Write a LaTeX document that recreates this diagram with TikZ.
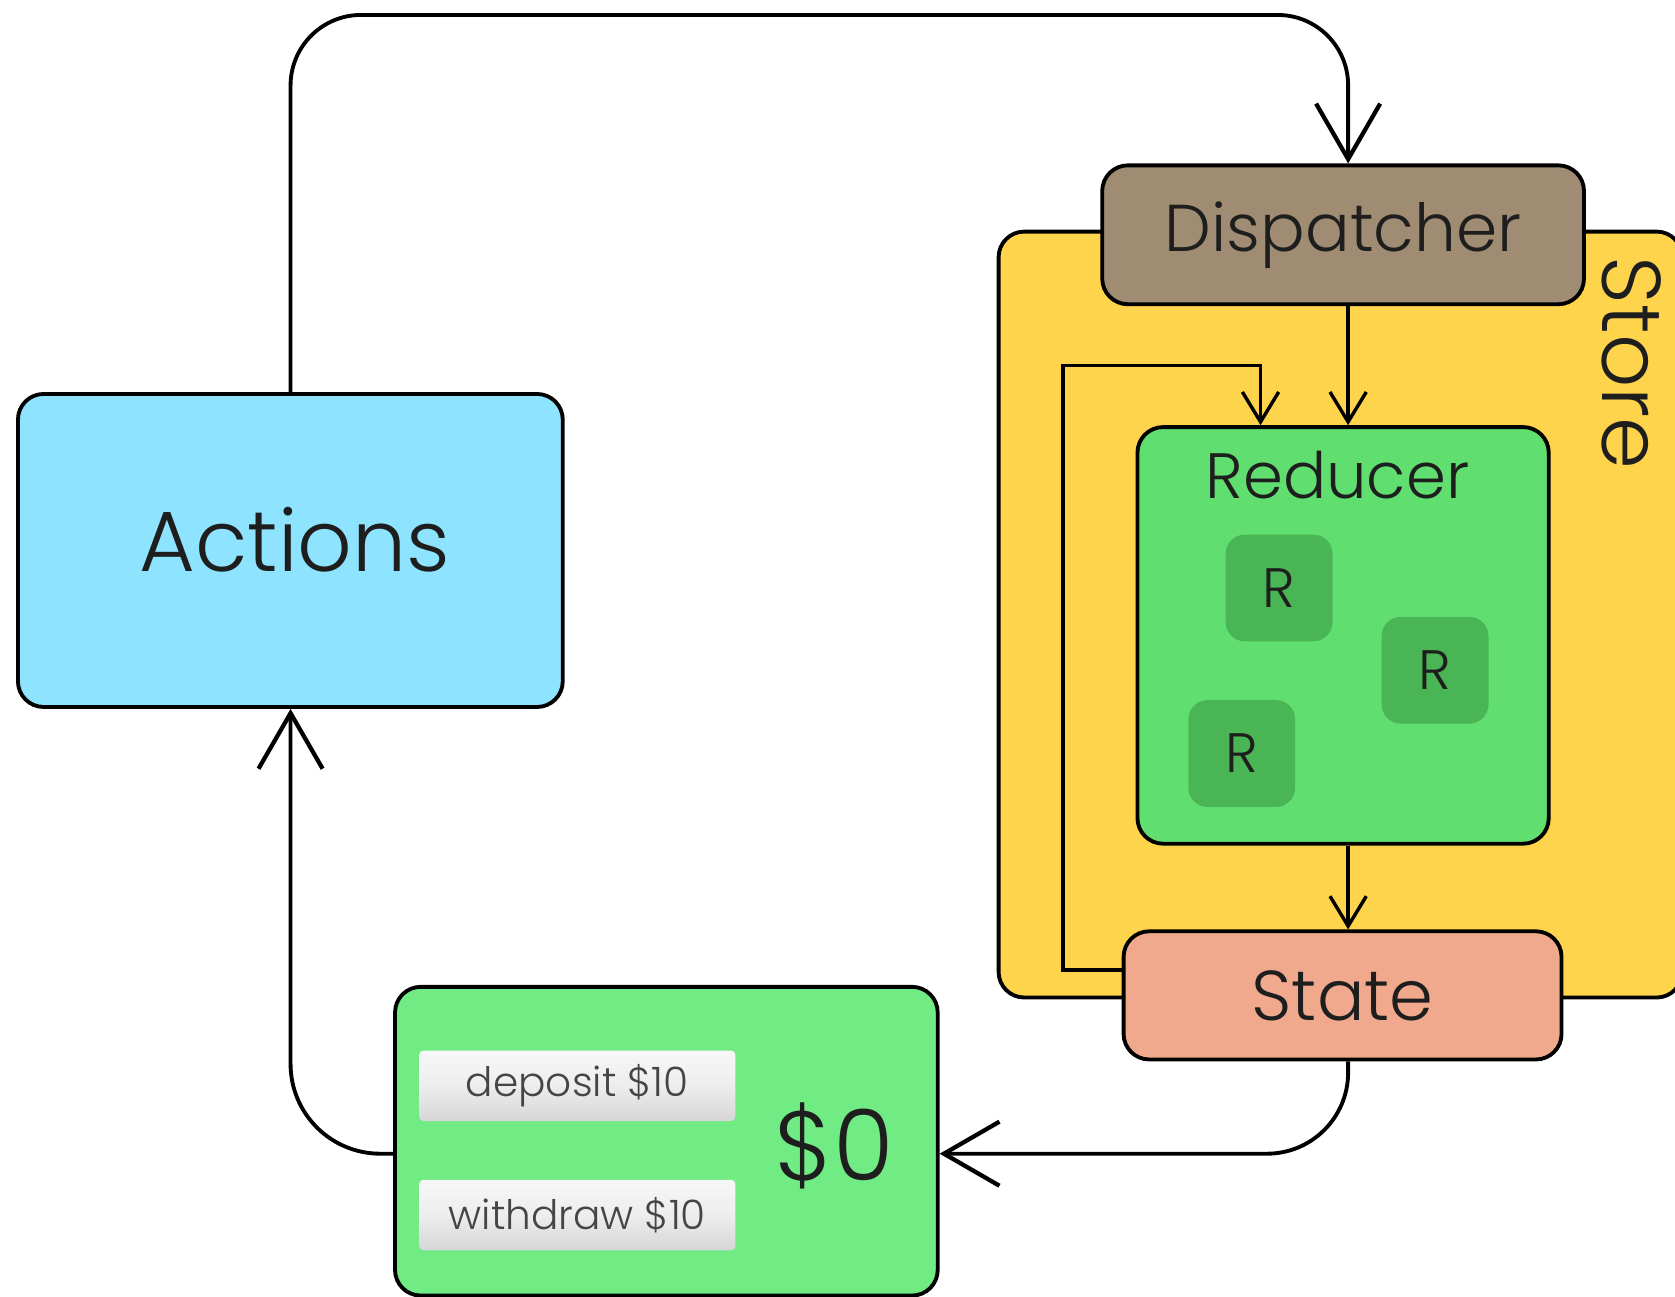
\documentclass[tikz,border=0pt]{standalone}
\usepackage{fontspec}
\setmainfont{Poppins}[UprightFont=* Light]
\usetikzlibrary{arrows.meta,positioning}
\definecolor{actfill}{HTML}{8EE3FE}
\definecolor{dispfill}{HTML}{A08C72}
\definecolor{storefill}{HTML}{FED44C}
\definecolor{redfill}{HTML}{60DF70}
\definecolor{rtile}{HTML}{4AB555}
\definecolor{statefill}{HTML}{F0A98C}
\definecolor{acctfill}{HTML}{71EB84}
\definecolor{txt}{HTML}{1E1E1E}
\definecolor{btntxt}{HTML}{454545}
\tikzset{
  box/.style={draw=black, line width=1.8pt, rounded corners=12pt, anchor=north west, inner sep=0pt, text=txt},
  tile/.style={fill=rtile, rounded corners=9pt, anchor=north west, inner sep=0pt, minimum width=50pt, minimum height=50pt, text=txt, font=\fontsize{26}{26}\selectfont},
  btn/.style={rounded corners=2pt, anchor=north west, inner sep=0pt, minimum width=148pt, minimum height=33pt, top color=white!97!black, bottom color=white!84!black, middle color=white!93!black, text=btntxt, font=\fontsize{19}{19}\selectfont},
  bigarrow/.style={draw=black, line width=1.8pt, -{Straight Barb[length=26pt,width=30pt,line width=2pt]}},
  smallarrow/.style={draw=black, line width=1.6pt, -{Straight Barb[length=14pt,width=17pt,line width=1.6pt]}},
}
\begin{document}
\begin{tikzpicture}[x=0.5pt,y=-0.5pt]
\useasboundingbox (0,0) rectangle (1568,1214);
\fill[white] (0,0) rectangle (1568,1214);
\coordinate (colx) at (1262,0);
% Store
\node[box, fill=storefill, minimum width=320pt, minimum height=358.5pt] (store) at (933,215) {};
\node[rotate=-90, text=txt, font=\fontsize{39}{39}\selectfont, anchor=center] (storelbl) at (1527,340) {Store};
% Dispatcher
\node[box, fill=dispfill, minimum width=225.5pt, minimum height=65pt, font=\fontsize{31}{31}\selectfont] (disp) at (1030,153) {Dispatcher};
% Reducer
\node[box, fill=redfill, minimum width=192.5pt, minimum height=195pt] (red) at (1063,398) {};
\node[text=txt, font=\fontsize{30}{30}\selectfont] (redlbl) at (1252,445) {Reducer};
\node[tile] (r1) at (1147,500) {R};
\node[tile] (r2) at (1293,577) {R};
\node[tile] (r3) at (1112,655) {R};
% State
\node[box, fill=statefill, minimum width=205pt, minimum height=60pt, font=\fontsize{33}{33}\selectfont] (state) at (1050,870) {State};
% Actions
\node[box, fill=actfill, minimum width=255pt, minimum height=146.5pt] (act) at (15,367) {};
\node[text=txt, font=\fontsize{40}{40}\selectfont] (actlbl) at (276,505) {Actions};
% Account box
\node[box, fill=acctfill, minimum width=254pt, minimum height=144.5pt] (acct) at (368,922) {};
\node[btn] (dep) at (392,983) {deposit \$10};
\node[btn] (wd) at (392,1104) {withdraw \$10};
\node[text=txt, font=\fontsize{46}{46}\selectfont] (bal) at (781,1073) {\$0};
% connectors
\coordinate (tl) at (272,14);
\coordinate (tr) at (1262,14);
\draw[bigarrow, rounded corners=33pt] (act.north -| tl) -- (tl) -- (tr) -- (disp.north -| colx);
\draw[smallarrow] (disp.south -| colx) -- (red.north -| colx);
\draw[smallarrow] (red.south -| colx) -- (state.north -| colx);
\coordinate (lpa) at (995,908);
\coordinate (lpb) at (995,342);
\coordinate (lpc) at (1180,342);
\draw[smallarrow] (state.west |- lpa) -- (lpa) -- (lpb) -- (lpc) -- (red.north -| lpc);
\coordinate (br) at (1262,1080);
\coordinate (bl) at (272,1080);
\draw[bigarrow, rounded corners=38pt] (state.south -| colx) -- (br) -- (acct.east |- br);
\draw[bigarrow, rounded corners=42pt] (acct.west |- bl) -- (bl) -- (act.south -| bl);
\end{tikzpicture}
\end{document}
